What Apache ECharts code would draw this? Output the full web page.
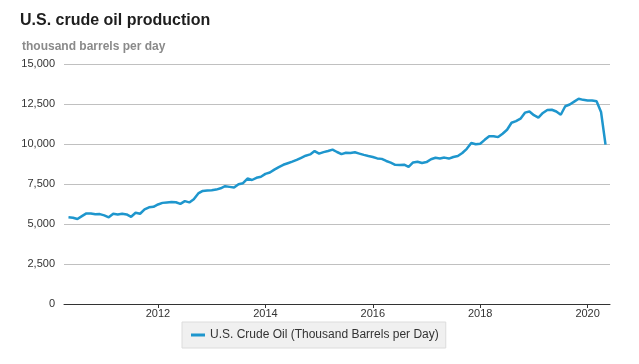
<!DOCTYPE html>
<html>
<head>
<meta charset="utf-8">
<script src="https://cdn.jsdelivr.net/npm/echarts@6/dist/echarts.min.js"></script>
<style>
html,body{margin:0;padding:0;background:#fff;}
#chart{width:639px;height:364px;}
</style>
</head>
<body>
<div id="chart"></div>
<script>
// First month of the series (May 2010), monthly values afterwards
const startYear = 2010;
const startMonth = 5;
const production = [
  // 2010 May-Dec
  5420, 5390, 5310, 5490, 5660, 5660, 5610, 5620,
  // 2011
  5540, 5420, 5640, 5600, 5640, 5600, 5450, 5700, 5640, 5910, 6040, 6075,
  // 2012
  6220, 6320, 6350, 6370, 6360, 6260, 6430, 6350, 6550, 6910, 7070, 7095,
  // 2013
  7110, 7150, 7230, 7360, 7320, 7280, 7490, 7550, 7840, 7750, 7890, 7950,
  // 2014
  8130, 8220, 8400, 8560, 8700, 8800, 8900, 9010, 9140, 9270, 9350, 9560,
  // 2015
  9400, 9490, 9560, 9650, 9500, 9370, 9450, 9440, 9480, 9400, 9320, 9250,
  // 2016
  9190, 9100, 9070, 8940, 8840, 8700, 8690, 8710, 8570, 8850, 8890, 8810,
  // 2017
  8870, 9050, 9140, 9100, 9150, 9090, 9190, 9250, 9440, 9700, 10060, 9980,
  // 2018
  10020, 10260, 10490, 10490, 10430, 10640, 10890, 11330, 11430, 11580, 11960, 12030,
  // 2019
  11800, 11650, 11940, 12130, 12140, 12030, 11830, 12360, 12470, 12650, 12830, 12760,
  // 2020 Jan-May
  12720, 12720, 12670, 12000, 9960
];
const yearTicks = [2012, 2014, 2016, 2018, 2020];
const seriesName = 'U.S. Crude Oil (Thousand Barrels per Day)';
const titleText = 'U.S. crude oil production';
const unitText = 'thousand barrels per day';

// x position in fractional years
const points = production.map((v, i) => {
  const m = startMonth - 1 + i;
  return [startYear + m / 12, v];
});

const chart = echarts.init(document.getElementById('chart'), null, {renderer: 'canvas'});
const fontFamily = 'Liberation Sans, Arial, sans-serif';
chart.setOption({
  animation: false,
  textStyle: {fontFamily: fontFamily},
  title: [
    {text: titleText, left: 20, top: 13, padding: 0,
     textStyle: {fontSize: 16, fontWeight: 'bold', color: '#1e1e1e', fontFamily: fontFamily}},
    {text: unitText, left: 22, top: 41, padding: 0,
     textStyle: {fontSize: 12, fontWeight: 'bold', color: '#8a8a8a', fontFamily: fontFamily}}
  ],
  grid: {left: 64, right: 29, top: 64, height: 240, containLabel: false},
  xAxis: {
    type: 'value',
    min: 2010 + 3 / 12,
    max: 2020 + 5 / 12,
    splitLine: {show: false},
    axisLine: {show: true, onZero: false, lineStyle: {color: '#333', width: 1}},
    axisTick: {show: true, customValues: yearTicks, length: 4, lineStyle: {color: '#333'}},
    axisLabel: {customValues: yearTicks, margin: 4, fontSize: 11, color: '#333',
      formatter: v => String(Math.round(v))}
  },
  yAxis: {
    type: 'value',
    min: 0,
    max: 15000,
    interval: 2500,
    axisLine: {show: false},
    axisTick: {show: false},
    axisLabel: {margin: 9, fontSize: 11, color: '#333',
      formatter: v => v.toLocaleString('en-US')},
    splitLine: {lineStyle: {color: '#c0c0c0', width: 1}}
  },
  legend: {
    left: 182, top: 322,
    padding: [7, 7, 7, 9],
    backgroundColor: '#f0f0f0',
    borderColor: '#dcdcdc',
    borderWidth: 1,
    borderRadius: 0,
    itemWidth: 14, itemHeight: 3,
    icon: 'rect',
    textStyle: {fontSize: 12, color: '#333', fontFamily: fontFamily},
    data: [seriesName]
  },
  series: [{
    name: seriesName,
    type: 'line',
    data: points,
    showSymbol: false,
    symbol: 'none',
    lineStyle: {color: '#1e96cd', width: 2.5},
    itemStyle: {color: '#1e96cd'}
  }]
});
</script>
</body>
</html>
